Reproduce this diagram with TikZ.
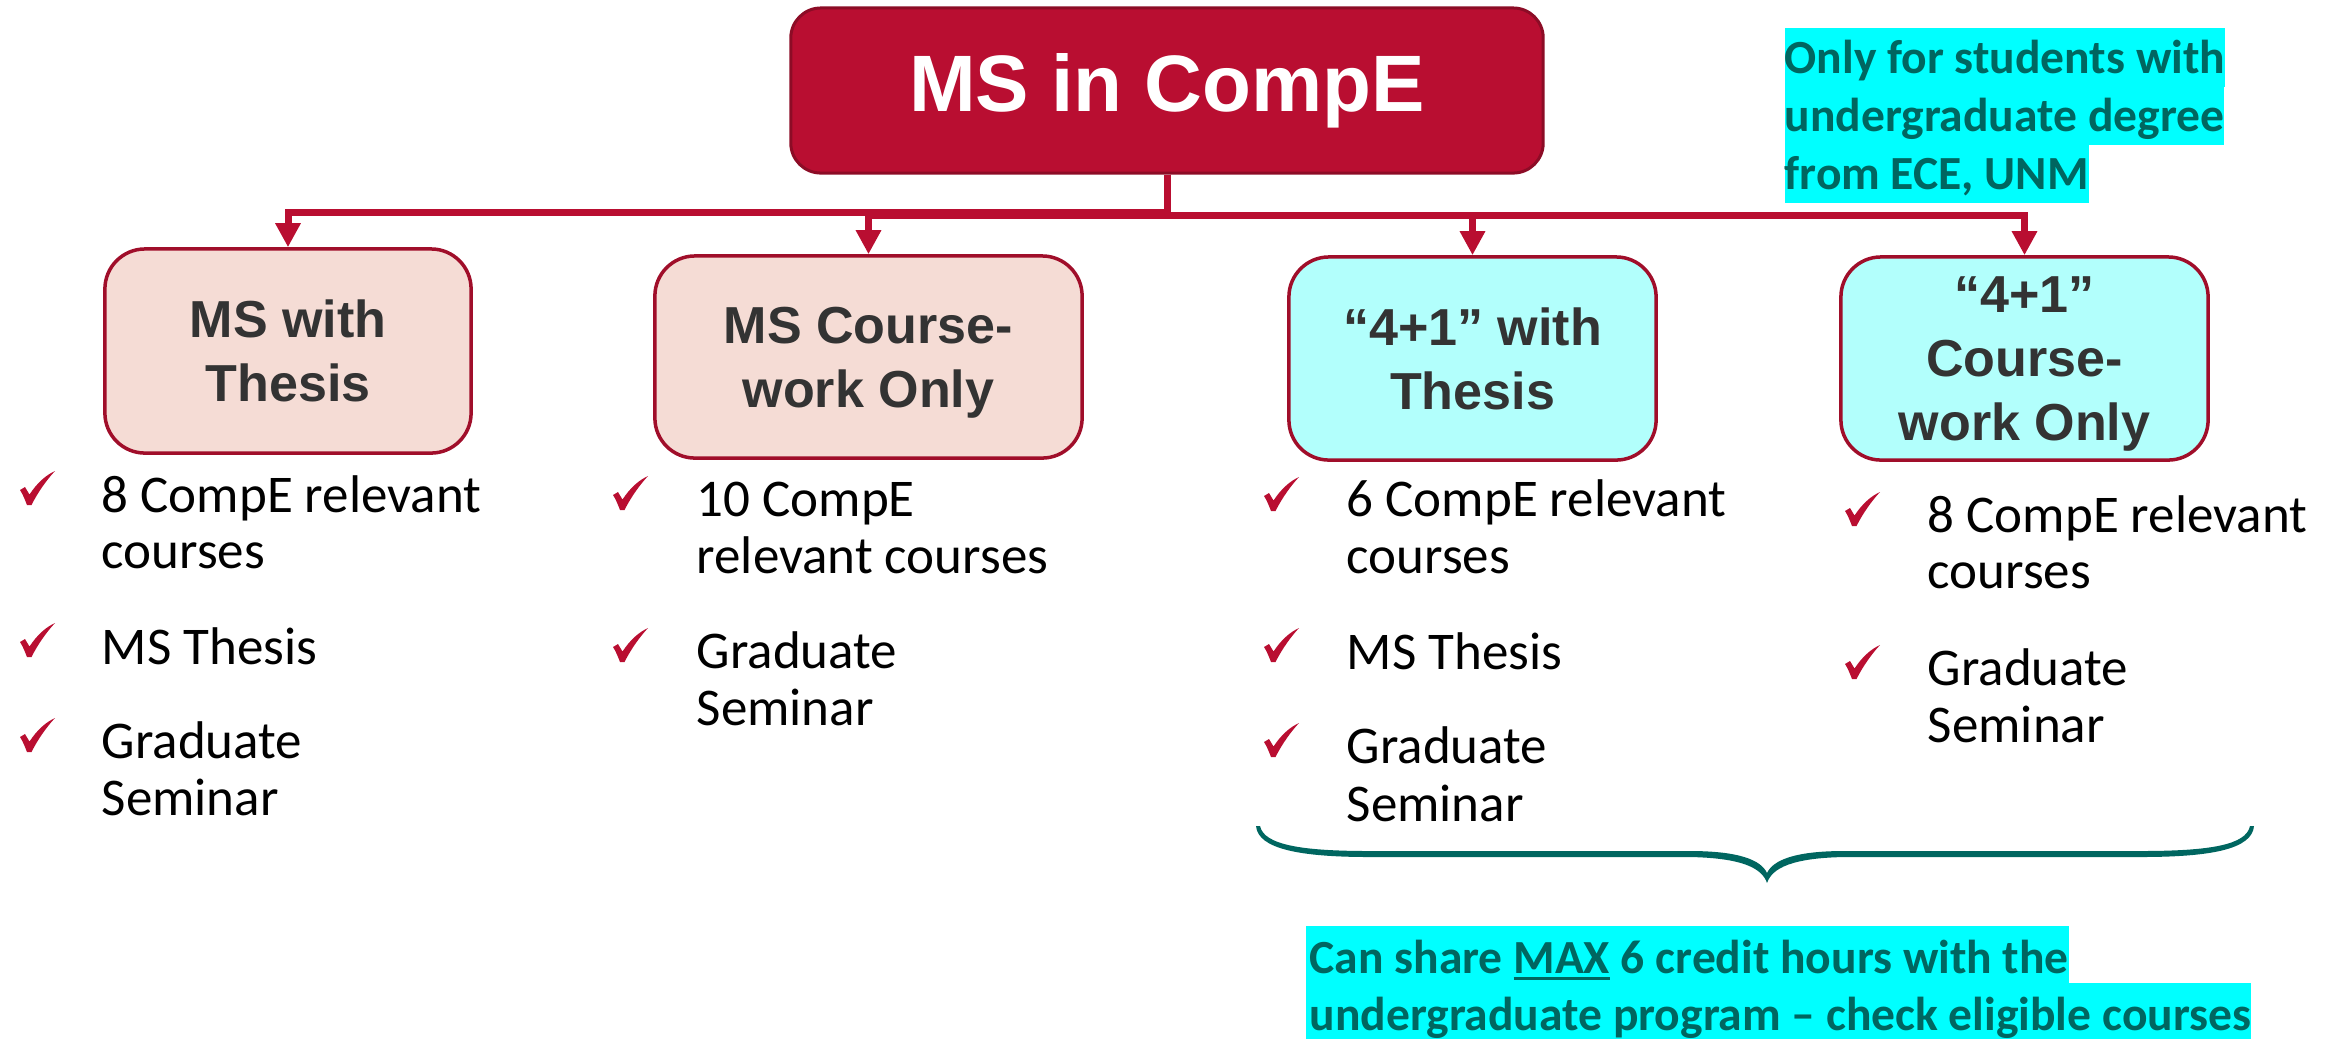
\documentclass[tikz,border=0pt]{standalone}
\usepackage{fontspec}
\setmainfont{Carlito}
\newfontfamily\arialf{Liberation Sans}
\usetikzlibrary{arrows.meta}
\definecolor{crim}{RGB}{185,14,49}
\definecolor{crimdark}{RGB}{140,12,38}
\definecolor{bord}{RGB}{160,14,42}
\definecolor{pinkf}{RGB}{245,220,213}
\definecolor{cyanf}{RGB}{178,255,252}
\definecolor{hlc}{RGB}{0,255,255}
\definecolor{teal2}{RGB}{0,102,96}
\definecolor{boxtxt}{RGB}{51,51,51}
\newcommand\bs{\rule[-0.2em]{0pt}{1.116em}}
\newcommand\myul[1]{\setbox0\hbox{#1}\rlap{\rule[-0.065cm]{\wd0}{0.03cm}}#1}
\begin{document}
\begin{tikzpicture}[x=0.01cm,y=-0.01cm,
 topbox/.style={draw=crimdark, line width=0.03cm, fill=crim, rounded corners=0.3cm, minimum width=7.52cm, minimum height=1.65cm, inner sep=0, text=white, font=\arialf\bfseries\fontsize{22.76pt}{27pt}\selectfont},
 sub/.style={draw=bord, line width=0.035cm, rounded corners=0.4cm, inner sep=0, align=center, text=boxtxt, font=\arialf\bfseries\fontsize{14.8pt}{18.21pt}\selectfont},
 pinkbox/.style={sub, fill=pinkf},
 cyanbox/.style={sub, fill=cyanf},
 conn/.style={draw=crim, line width=0.07cm, -{Triangle[length=0.24cm,width=0.24cm]}},
 lst/.style={anchor=base west, inner sep=0, font=\fontsize{15.08pt}{16pt}\selectfont},
 hl/.style={anchor=base west, fill=hlc, inner sep=0, text height=0.445cm, text depth=0.135cm, text=teal2, font=\bfseries\fontsize{13.52pt}{16pt}\selectfont},
 chk/.pic={\fill[crim] (0,19) -- (5,16) -- (9.5,23.5) .. controls (17,12) and (26,4) .. (35,0) .. controls (27,8.5) and (18,21) .. (11.5,34) -- (7,34) .. controls (5,29) and (3,23.5) .. (0,19) -- cycle;}
]
\useasboundingbox (0,0) rectangle (2331,1038);

% boxes
\node[topbox] (top) at (1167,90.5) {MS in CompE};
\node[pinkbox, minimum width=3.66cm, minimum height=2.04cm] (b1) at (288,351) {\bs MS with\\\bs Thesis};
\node[pinkbox, minimum width=4.27cm, minimum height=2.02cm] (b2) at (868.5,357) {\bs MS Course-\\\bs work Only};
\node[cyanbox, minimum width=3.67cm, minimum height=2.03cm] (b3) at (1472.5,358.5) {\bs “4+1” with\\\bs Thesis};
\node[cyanbox, minimum width=3.67cm, minimum height=2.03cm] (b4) at (2024.5,358.5) {\bs “4+1”\\\bs Course-\\\bs work Only};

% connectors
\draw[conn] (top.south) -- ++(0,38) -| (b1.north);
\draw[conn] (top.south) -- ++(0,41) -| (b2.north);
\draw[conn] (top.south) -- ++(0,41) -| (b3.north);
\draw[conn] (top.south) -- ++(0,41) -| (b4.north);

% column 1
\pic at (20,471) {chk};
\node[lst] (c1a) at (101,512) {8 CompE relevant};
\node[lst] (c1b) at (101,568) {courses};
\pic at (20,623) {chk};
\node[lst] (c1c) at (101,664) {MS Thesis};
\pic at (20,718) {chk};
\node[lst] (c1d) at (101,758) {Graduate};
\node[lst] (c1e) at (101,815) {Seminar};

% column 2
\pic at (613,476) {chk};
\node[lst] (c2a) at (696,516) {10 CompE};
\node[lst] (c2b) at (696,573) {relevant courses};
\pic at (613,628) {chk};
\node[lst] (c2c) at (696,668) {Graduate};
\node[lst] (c2d) at (696,725) {Seminar};

% column 3
\pic at (1264,477) {chk};
\node[lst] (c3a) at (1346,516) {6 CompE relevant};
\node[lst] (c3b) at (1346,573) {courses};
\pic at (1264,628) {chk};
\node[lst] (c3c) at (1346,669) {MS Thesis};
\pic at (1264,723) {chk};
\node[lst] (c3d) at (1346,763) {Graduate};
\node[lst] (c3e) at (1346,821) {Seminar};

% column 4
\pic at (1845,492) {chk};
\node[lst] (c4a) at (1927,532) {8 CompE relevant};
\node[lst] (c4b) at (1927,588) {courses};
\pic at (1845,645) {chk};
\node[lst] (c4c) at (1927,685) {Graduate};
\node[lst] (c4d) at (1927,742) {Seminar};

% brace (tapered, filled)
\fill[teal2]
  (1256,826) .. controls (1258,849) and (1300,857) .. (1370,857)
  -- (1690,857) .. controls (1742,858) and (1762,868) .. (1767,883)
  .. controls (1772,868) and (1792,858) .. (1844,857)
  -- (2140,857) .. controls (2212,857) and (2252,849) .. (2254,826)
  -- (2250,826) .. controls (2246,845) and (2210,851) .. (2140,851)
  -- (1844,851) .. controls (1795,851) and (1773,860) .. (1767,873)
  .. controls (1761,860) and (1739,851) .. (1690,851)
  -- (1370,851) .. controls (1302,851) and (1264,845) .. (1260,826) -- cycle;

% notes
\node[hl] (n1) at (1784,73) {Only for students with\hspace{0.13cm}};
\node[hl] (n2) at (1784,131) {undergraduate degree\hspace{0.12cm}};
\node[hl] (n3) at (1784,189) {from ECE, UNM\hspace{0.03cm}};
\node[hl, text height=0.47cm, text depth=0.1cm] (n4) at (1305,973) {\hspace{0.04cm}Can share \myul{MAX} 6 credit hours with the\hspace{0.13cm}};
\node[hl, text height=0.47cm, text depth=0.1cm] (n5) at (1305,1030) {\hspace{0.04cm}undergraduate program – check eligible courses\hspace{0.02cm}};
\end{tikzpicture}
\end{document}
